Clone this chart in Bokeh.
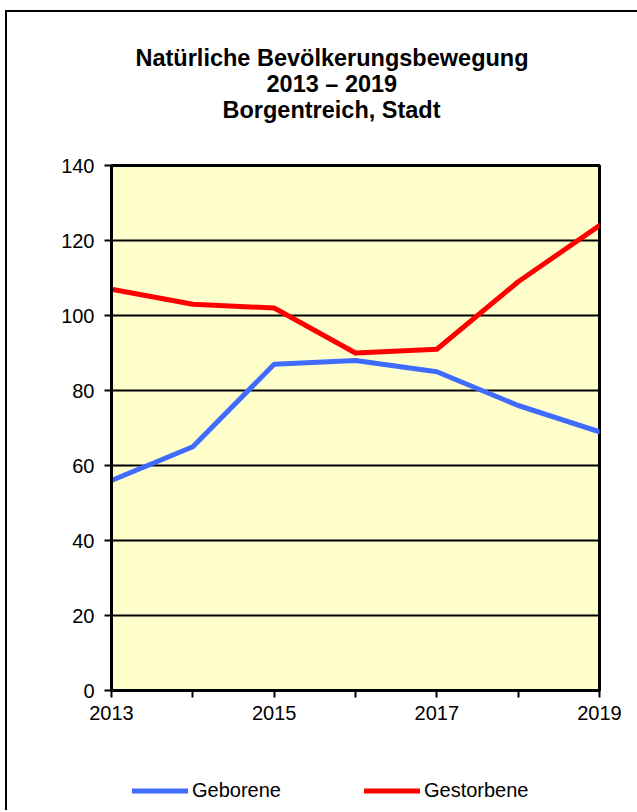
from bokeh.plotting import figure
from bokeh.layouts import column
from bokeh.models import Title, Legend, LegendItem, FixedTicker, Range1d
from bokeh.embed import file_html
from bokeh.resources import INLINE

years = [2013, 2014, 2015, 2016, 2017, 2018, 2019]
geborene = [56, 65, 87, 88, 85, 76, 69]
gestorbene = [107, 103, 102, 90, 91, 109, 124]
x_tick_labels = ["2013", "", "2015", "", "2017", "", "2019"]
y_ticks = [0, 20, 40, 60, 80, 100, 120, 140]
title_lines = ["Natürliche Bevölkerungsbewegung", "2013 – 2019", "Borgentreich, Stadt"]
series_names = ["Geborene", "Gestorbene"]
series_colors = ["#3F6BFF", "#FF0000"]
series_values = [geborene, gestorbene]

FONT = "Liberation Sans"
W = 630

p = figure(width=W, height=758, output_backend="svg", toolbar_location=None,
           x_range=Range1d(years[0], years[-1]), y_range=Range1d(y_ticks[0], y_ticks[-1]),
           min_border_left=104, min_border_right=38, min_border_top=153, min_border_bottom=80,
           background_fill_color="#FFFFCC", border_fill_color="white")
p.title = None

# spacer closest to the plot area, then the title lines (stacked outward)
p.add_layout(Title(text=" ", text_font_size="12px", standoff=28), "above")
title_offsets = [24, 155, 111]
for line, off in reversed(list(zip(title_lines, title_offsets))):
    t = Title(text=line, align="left", offset=off, text_font=FONT, text_font_size="23.5px",
              text_font_style="bold", text_color="black", standoff=-2)
    p.add_layout(t, "above")

p.outline_line_color = "black"
p.outline_line_width = 3

p.xgrid.grid_line_color = None
p.ygrid.grid_line_color = "black"
p.ygrid.grid_line_width = 2
p.ygrid.ticker = FixedTicker(ticks=y_ticks)

p.xaxis.ticker = FixedTicker(ticks=years)
p.xaxis.major_label_overrides = {y: l for y, l in zip(years, x_tick_labels)}
p.yaxis.ticker = FixedTicker(ticks=y_ticks)
for ax in (p.xaxis, p.yaxis):
    ax.axis_line_color = "black"
    ax.axis_line_width = 3
    ax.major_tick_line_color = "black"
    ax.major_tick_line_width = 2
    ax.major_tick_out = 7
    ax.major_tick_in = 0
    ax.minor_tick_line_color = None
    ax.major_label_text_font = FONT
    ax.major_label_text_font_size = "20px"
    ax.major_label_text_color = "black"
p.xaxis.major_label_standoff = 8
p.yaxis.major_label_standoff = 10

for vals, col in zip(series_values, series_colors):
    p.line(years, vals, line_color=col, line_width=5, line_join="round", line_cap="round")

# legend strip below the chart (its own frame is aligned with the chart's frame)
lf = figure(width=W, height=40, output_backend="svg", toolbar_location=None,
            x_range=Range1d(0, 1), y_range=Range1d(0, 1), x_axis_type=None, y_axis_type=None,
            min_border_left=0, min_border_right=0, min_border_top=0, min_border_bottom=0,
            background_fill_color="white", border_fill_color="white", outline_line_color=None)
lf.title = None
lf.xgrid.grid_line_color = None
lf.ygrid.grid_line_color = None
# legend proxies: same series, outside this strip's ranges, so only their legend glyphs show
leg_renderers = [lf.line(years, vals, line_color=c, line_width=5, line_cap="round")
                 for vals, c in zip(series_values, series_colors)]
legend = Legend(items=[LegendItem(label=n, renderers=[r]) for n, r in zip(series_names, leg_renderers)],
                orientation="horizontal", location="left",
                border_line_color=None, background_fill_alpha=0,
                label_text_font=FONT, label_text_font_size="20px", label_text_color="black",
                glyph_width=56, glyph_height=20, label_standoff=4, spacing=83,
                padding=0, margin=21)
lf.add_layout(legend, "center")

layout = column(p, lf, spacing=0,
                styles={"border-left": "2px solid black", "border-top": "2px solid black",
                        "margin-left": "5px", "margin-top": "10px"})

open("out.html", "w").write(file_html(layout, INLINE))
